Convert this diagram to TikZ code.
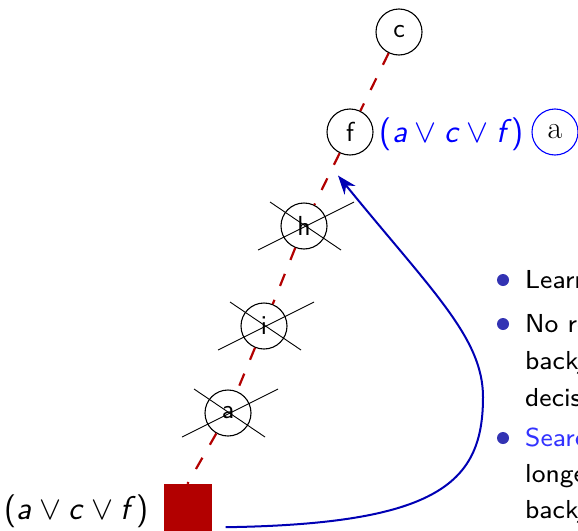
\RequirePackage{fix-cm}
\documentclass[tikz,border=0pt]{standalone}
\usepackage{fontspec}
\newfontfamily\lmseight{lmsans8-regular.otf}
\usetikzlibrary{arrows.meta,calc}
\definecolor{dred}{RGB}{178,0,0}
\definecolor{darrow}{RGB}{0,0,180}
\definecolor{bul}{RGB}{51,51,179}
\definecolor{lblue}{RGB}{51,51,255}
\begin{document}
\begin{tikzpicture}[x=1pt,y=-1pt,
 vnode/.style={circle,draw,line width=1.1pt,minimum size=46pt,inner sep=0pt,fill=white,font=\fontsize{27.5}{30}\selectfont\sffamily},
 xline/.style={line width=0.9pt},
 treeedge/.style={dred,line width=2.2pt,dash pattern=on 13pt off 15pt},
 lab/.style={font=\fontsize{33}{36}\selectfont\sffamily,inner sep=0pt},
 txt/.style={anchor=base west,inner sep=0pt,font=\fontsize{26}{30}\selectfont\lmseight},
 bullet/.style={circle,fill=bul,minimum size=12pt,inner sep=0pt}]
\useasboundingbox (0,0) rectangle (578,530);
\clip (0,0) rectangle (578,530);
% tree nodes
\node[vnode] (c) at (399,32) {c};
\node[vnode] (f) at (350,132) {f};
\node[vnode] (h) at (304,226) {h};
\node[vnode] (i) at (264,326) {i};
\node[vnode] (a) at (228,413) {a};
\node[fill=dred,minimum size=48pt,inner sep=0pt] (sq) at (187.5,508) {};
% dashed edges
\draw[treeedge] (c) -- (f);
\draw[treeedge] (f) -- (h);
\draw[treeedge] (h) -- (i);
\draw[treeedge] (i) -- (a);
\draw[treeedge] (a) -- (sq.north);
% crosses
\foreach \X in {h,i,a}{
  \draw[xline] ($(\X)+(-34,-24)$) -- ($(\X)+(37,24)$);
  \draw[xline] ($(\X)+(-46,24)$) -- ($(\X)+(50,-24)$);
}
% labels
\node[lab,text=blue] (lf) at (452,134) {(\textsl{a}${}\vee{}$\textsl{c}${}\vee{}$\textsl{f})};
\node[circle,draw=blue,line width=1.1pt,minimum size=46pt,inner sep=0pt,font=\fontsize{32}{34}\selectfont\rmfamily] (ba) at (555,132) {a};
\node[lab] (lsq) at (76.5,511.5) {(\textsl{a}${}\vee{}$\textsl{c}${}\vee{}$\textsl{f})};
% backjump arrow
\coordinate (s) at ($(sq.south east)+(14,-5)$);
\coordinate (e) at ($(f.south)+(-12,20)$);
\draw[darrow,line width=2pt,-{Stealth[length=19pt,width=14pt]}] (s) .. controls (440,524) and (483,482) .. (483,397) .. controls (483,338) and (432,291) .. (e);
% bullet list
\node[bullet] (b1) at (503,280) {};
\node[txt] (t1) at (525,288) {Learned clause};
\node[bullet] (b2) at (503,324) {};
\node[txt] (t2) at (525,332) {No return to};
\node[txt] (t3) at (525,369) {backjump};
\node[txt] (t4) at (525,406) {decision};
\node[bullet] (b3) at (503,438) {};
\node[txt,text=lblue] (t5) at (525,446) {Search};
\node[txt] (t6) at (525,482) {longer};
\node[txt] (t7) at (525,518) {backjump};
\end{tikzpicture}
\end{document}
